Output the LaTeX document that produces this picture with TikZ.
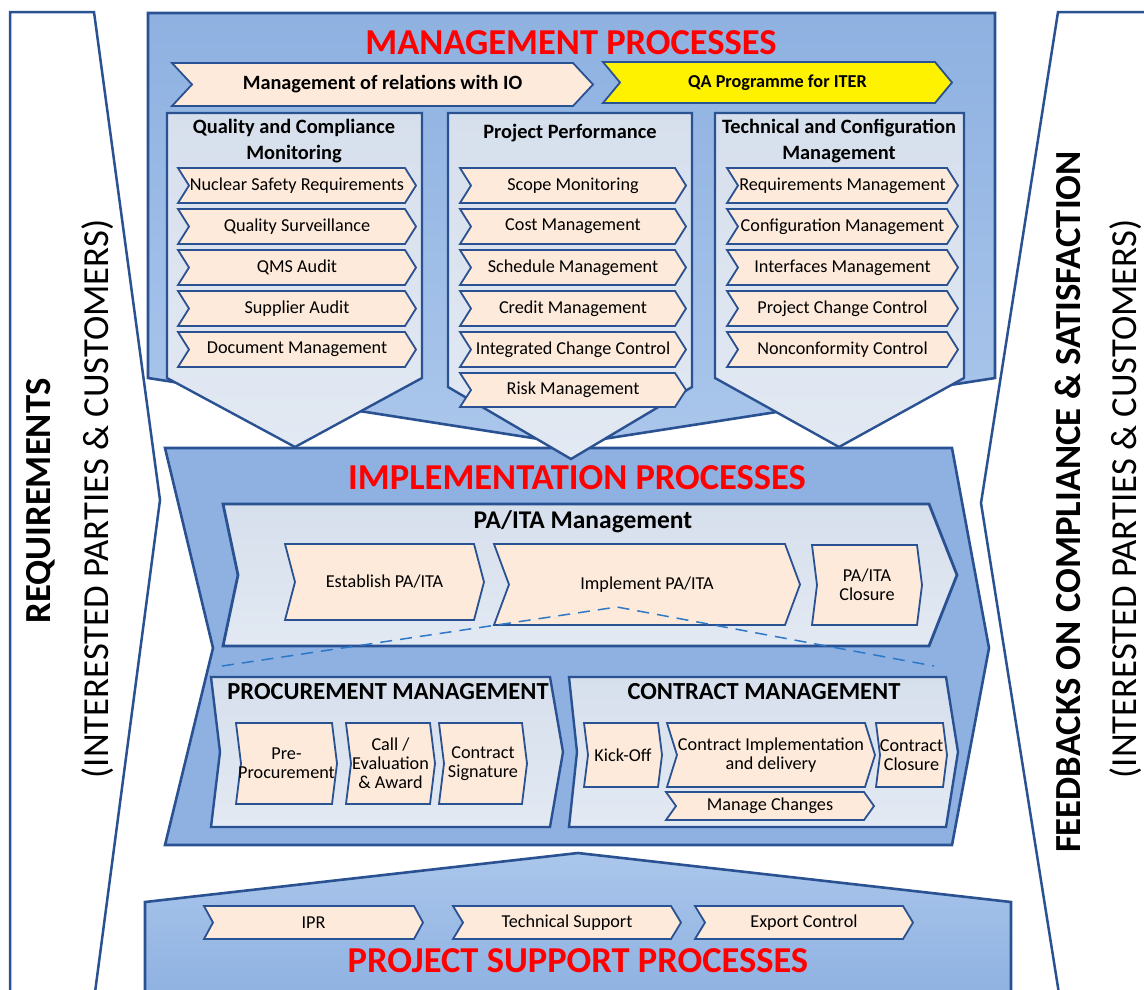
\documentclass[tikz,border=0pt]{standalone}
\usepackage{fontspec}
\setmainfont{Carlito}
\definecolor{frameblue}{HTML}{2A5191}
\definecolor{boxblue}{HTML}{8EB1E1}
\definecolor{boxlight}{HTML}{AAC6EB}
\definecolor{panelgray}{HTML}{D6DFEC}
\definecolor{panellight}{HTML}{E2E9F3}
\definecolor{peach}{HTML}{FDEADA}
\definecolor{dashblue}{HTML}{2E78C8}
% chevron: [extra style]{name}{left}{right}{top}{bottom}{depth}{text}
\newcommand{\chevron}[8][]{%
  \draw[chevline,#1] (#3,#5) -- (#4,#5) -- ({#4+#7},{(#5+#6)/2}) -- (#4,#6) -- (#3,#6) -- ({#3+#7},{(#5+#6)/2}) -- cycle;
  \node[chevtext] (#2) at ({(#3+#4+#7)/2},{(#5+#6)/2}) {#8};}

\begin{document}
\begin{tikzpicture}[x=1pt, y=-1pt,
sideframe/.style={draw=frameblue, line width=2.5pt, fill=white},
bigbox/.style={draw=frameblue, line width=2.6pt, line join=miter},
panel/.style={draw=frameblue, line width=2.4pt, top color=panelgray, bottom color=panellight},
chevline/.style={draw=frameblue, line width=1.8pt, fill=peach},
chevtext/.style={inner sep=0pt, align=center, font=\fontsize{18.2}{19}\selectfont},
redtitle/.style={text=red, font=\fontsize{36.5}{40}\selectfont\bfseries},
boxtitle/.style={align=center, font=\fontsize{20.4}{26}\selectfont\bfseries},
subtitle/.style={font=\fontsize{24.5}{28}\selectfont\bfseries},
sidetext/.style={rotate=90, font=\fontsize{36.7}{40}\selectfont}
]
\useasboundingbox (0,0) rectangle (1144,989);

% side panels
\draw[sideframe] (10,1000) -- (10,12) -- (94,12) -- (160,500) -- (94,1000);
\draw[sideframe] (1160,12) -- (1058,12) -- (981,503) -- (1060,1000);
\node[sidetext, font=\fontsize{36.7}{40}\selectfont\bfseries] (req) at (41,501) {REQUIREMENTS};
\node[sidetext] (reqip) at (98,499) {(INTERESTED PARTIES \& CUSTOMERS)};
\node[sidetext, font=\fontsize{36.7}{40}\selectfont\bfseries] (fb) at (1068,502) {FEEDBACKS ON COMPLIANCE \& SATISFACTION};
\node[sidetext] (fbip) at (1126,499) {(INTERESTED PARTIES \& CUSTOMERS)};

% implementation processes
\draw[bigbox, fill=boxblue] (165,448) -- (952,448) -- (989,648) -- (952,845) -- (165,845) -- (213,648) -- cycle;
\node[redtitle] (impl) at (577,478) {IMPLEMENTATION PROCESSES};

\draw[panel, line width=2.8pt] (223,504) -- (929,504) -- (957,575) -- (929,646) -- (223,646) -- (238,575) -- cycle;
\node[subtitle, font=\fontsize{25.5}{28}\selectfont\bfseries] (pait) at (583,522) {PA/ITA Management};
\chevron{estab}{285}{474}{544}{620}{10}{Establish PA/ITA}
\chevron{implem}{494}{785}{544}{625}{15}{Implement PA/ITA}
\chevron{closure}{812}{917}{545}{625}{5}{PA/ITA\\Closure}

\coordinate (d1) at (222,666);
\coordinate (d2) at (617,607);
\coordinate (d3) at (934,666);
\draw[dashblue, line width=1.5pt, dash pattern=on 12pt off 8pt] (d1) -- (d2) -- (d3);

\draw[panel] (211,677) -- (550,677) -- (563,752) -- (550,827) -- (211,827) -- (220,752) -- cycle;
\node[subtitle] (proc) at (388,692) {PROCUREMENT MANAGEMENT};
\chevron{prepro}{236}{332}{723}{804}{5}{Pre-\\Procurement}
\chevron{call}{346}{430}{723}{804}{5}{Call /\\Evaluation\\\& Award}
\chevron{sign}{439}{522}{723}{804}{5}{Contract\\Signature}

\draw[panel] (569,677) -- (946,677) -- (958,752) -- (946,827) -- (569,827) -- (577,752) -- cycle;
\node[subtitle] (contr) at (764,692) {CONTRACT MANAGEMENT};
\chevron{kick}{584}{658}{723}{787}{4}{Kick-Off}
\chevron{cimpl}{667}{865}{723}{787}{10}{Contract Implementation\\and delivery}
\chevron{cclos}{876}{943}{723}{787}{4}{Contract\\Closure}
\chevron{chang}{666}{864}{792}{820}{10}{Manage Changes}

% project support processes
\draw[bigbox, top color=boxlight, bottom color=boxblue] (578,853) -- (1011,902) -- (1011,1000) -- (145,1000) -- (145,902) -- cycle;
\chevron{ipr}{204}{414}{906}{939}{9}{IPR}
\chevron{tech}{453}{671}{906}{939}{10}{Technical Support}
\chevron{export}{695}{903}{906}{939}{10}{Export Control}
\node[redtitle] (supp) at (578,961) {PROJECT SUPPORT PROCESSES};

% management processes
\draw[bigbox, top color=boxblue, bottom color=boxlight] (148,13) -- (995,13) -- (995,378) -- (571,444) -- (148,378) -- cycle;
\node[redtitle] (mgmt) at (571,43) {MANAGEMENT PROCESSES};
\chevron{rel}{172}{573}{63}{106}{20}{\fontsize{20.3}{22}\selectfont\bfseries Management of relations with IO}
\chevron[fill=yellow]{qa}{603}{935}{62}{103}{17}{\bfseries QA Programme for ITER}

\draw[panel] (167,113) -- (422,113) -- (422,378) -- (295,447) -- (167,378) -- cycle;
\node[boxtitle] (qcm) at (294,141) {Quality and Compliance\\Monitoring};
\chevron{nsr}{178}{405}{168}{203}{11}{Nuclear Safety Requirements}
\chevron{qs}{178}{405}{209}{244}{11}{Quality Surveillance}
\chevron{qms}{178}{405}{250}{285}{11}{QMS Audit}
\chevron{sa}{178}{405}{291}{326}{11}{Supplier Audit}
\chevron{dm}{178}{405}{332}{367}{11}{Document Management}

\draw[panel] (448,113) -- (692,113) -- (692,387) -- (571,459) -- (448,387) -- cycle;
\node[boxtitle] (pp) at (570,133) {Project Performance};
\chevron{scope}{460}{675}{168}{203}{11}{Scope Monitoring}
\chevron{cost}{460}{675}{209}{244}{11}{Cost Management}
\chevron{sched}{460}{675}{250}{285}{11}{Schedule Management}
\chevron{credit}{460}{675}{291}{326}{11}{Credit Management}
\chevron{icc}{460}{675}{332}{367}{11}{Integrated Change Control}
\chevron{risk}{460}{675}{373}{407}{11}{Risk Management}

\draw[panel] (715,113) -- (964,113) -- (964,378) -- (839,447) -- (715,378) -- cycle;
\node[boxtitle] (tcm) at (839,141) {Technical and Configuration\\Management};
\chevron{reqm}{727}{947}{168}{203}{11}{Requirements Management}
\chevron{conf}{727}{947}{209}{244}{11}{Configuration Management}
\chevron{intf}{727}{947}{250}{285}{11}{Interfaces Management}
\chevron{pcc}{727}{947}{291}{326}{11}{Project Change Control}
\chevron{ncc}{727}{947}{332}{367}{11}{Nonconformity Control}
\end{tikzpicture}
\end{document}
